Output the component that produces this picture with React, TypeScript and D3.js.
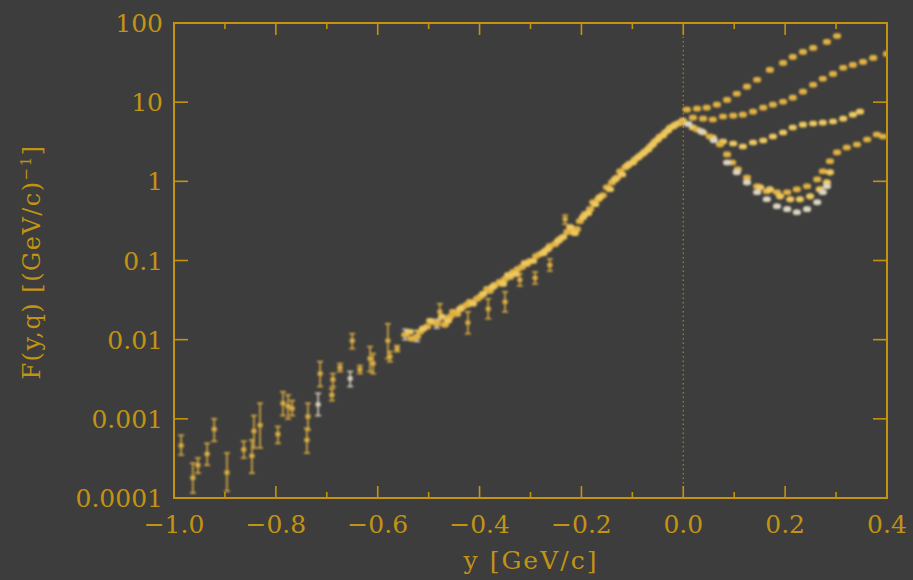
import React from "react";
import * as d3 from "d3";

const W = 913;
const H = 580;
const plot = { left: 174, right: 887, top: 23, bottom: 498 };

const xMajor = [-1.0, -0.8, -0.6, -0.4, -0.2, 0.0, 0.2, 0.4];
const xMajorLabels = ["−1.0", "−0.8", "−0.6", "−0.4", "−0.2", "0.0", "0.2", "0.4"];
const xMinor = [-0.9, -0.7, -0.5, -0.3, -0.1, 0.1, 0.3];
const yMajor = [0.0001, 0.001, 0.01, 0.1, 1, 10, 100];
const yMajorLabels = ["0.0001", "0.001", "0.01", "0.1", "1", "10", "100"];

// [y, F, F low, F high] sparse points with big error bars
const lowGold = [
  [-0.986, 4.6e-4, 3.5e-4, 6.2e-4],
  [-0.963, 1.8e-4, 1.16e-4, 2.75e-4],
  [-0.953, 2.6e-4, 2.06e-4, 3.2e-4],
  [-0.935, 3.6e-4, 2.6e-4, 4.9e-4],
  [-0.921, 7.4e-4, 5.2e-4, 1.0e-3],
  [-0.896, 2.1e-4, 1.22e-4, 3.7e-4],
  [-0.863, 4.1e-4, 3.2e-4, 5.2e-4],
  [-0.847, 3.4e-4, 2.06e-4, 5.4e-4],
  [-0.843, 7.0e-4, 4.3e-4, 1.1e-3],
  [-0.831, 8.3e-4, 4.3e-4, 1.57e-3],
  [-0.796, 6.4e-4, 4.9e-4, 8.0e-4],
  [-0.786, 1.57e-3, 1.1e-3, 2.2e-3],
  [-0.776, 1.44e-3, 1.0e-3, 2.0e-3],
  [-0.768, 1.35e-3, 1.1e-3, 1.7e-3],
  [-0.739, 5.4e-4, 3.7e-4, 7.6e-4],
  [-0.737, 1.07e-3, 7.2e-4, 1.57e-3],
  [-0.713, 3.73e-3, 2.56e-3, 5.28e-3],
  [-0.69, 2.0e-3, 1.7e-3, 2.4e-3],
  [-0.688, 3.14e-3, 2.56e-3, 3.73e-3],
  [-0.674, 4.44e-3, 3.96e-3, 4.99e-3],
  [-0.65, 9.7e-3, 7.7e-3, 1.19e-2],
  [-0.635, 4.2e-3, 3.73e-3, 4.71e-3],
  [-0.615, 5.77e-3, 3.96e-3, 8.17e-3],
  [-0.609, 5.0e-3, 3.73e-3, 6.67e-3],
  [-0.58, 9.7e-3, 5.77e-3, 1.59e-2],
  [-0.576, 6.1e-3, 5.28e-3, 7.07e-3],
  [-0.562, 7.7e-3, 7.07e-3, 8.4e-3],
  [-0.478, 2.25e-2, 1.73e-2, 2.84e-2],
  [-0.423, 1.64e-2, 1.19e-2, 2.25e-2],
  [-0.383, 2.45e-2, 1.84e-2, 3.28e-2],
  [-0.35, 3.0e-2, 2.25e-2, 4.02e-2],
  [-0.321, 5.69e-2, 4.78e-2, 6.76e-2],
  [-0.291, 6.03e-2, 5.07e-2, 7.16e-2],
  [-0.262, 8.77e-2, 7.38e-2, 0.1045],
  [-0.232, 0.333, 0.288, 0.373],
];

const lowPale = [
  [-0.717, 1.52e-3, 1.1e-3, 2.1e-3],
  [-0.654, 3.23e-3, 2.56e-3, 3.96e-3],
  [-0.546, 1.16e-2, 1.0e-2, 1.35e-2],
  [-0.523, 1.09e-2, 0.95e-2, 1.3e-2],
  [-0.484, 1.59e-2, 1.4e-2, 1.8e-2],
];

// [y, F] the scaling band below y = 0
const band1 = [
  [-0.546, 0.01156], [-0.533, 0.0103], [-0.523, 0.0109], [-0.517, 0.0126],
  [-0.503, 0.0146], [-0.491, 0.0168], [-0.484, 0.0159], [-0.468, 0.0154],
  [-0.458, 0.0195], [-0.452, 0.0225], [-0.444, 0.0212], [-0.433, 0.026],
  [-0.425, 0.0275], [-0.419, 0.03], [-0.405, 0.0328], [-0.399, 0.0348],
  [-0.385, 0.0438], [-0.38, 0.0413], [-0.37, 0.0492], [-0.36, 0.0537],
  [-0.35, 0.0585], [-0.34, 0.062], [-0.334, 0.0716], [-0.325, 0.078],
  [-0.317, 0.0828], [-0.307, 0.0904], [-0.301, 0.0986], [-0.289, 0.114],
  [-0.281, 0.121], [-0.272, 0.132], [-0.262, 0.152], [-0.252, 0.161],
  [-0.242, 0.186], [-0.228, 0.228], [-0.219, 0.235], [-0.209, 0.249],
  [-0.203, 0.314], [-0.193, 0.385], [-0.183, 0.445], [-0.177, 0.544],
  [-0.167, 0.594], [-0.158, 0.667], [-0.15, 0.841], [-0.14, 0.971],
  [-0.13, 1.12], [-0.124, 1.34], [-0.114, 1.5], [-0.105, 1.68],
  [-0.095, 1.89], [-0.085, 2.12], [-0.075, 2.39], [-0.065, 2.75],
  [-0.056, 3.19], [-0.046, 3.68], [-0.036, 4.13], [-0.026, 4.78],
  [-0.016, 5.21], [-0.006, 5.52],
];

const band2 = [
  [-0.537, 0.0126], [-0.511, 0.0138], [-0.497, 0.0173], [-0.474, 0.0195],
  [-0.462, 0.0173], [-0.438, 0.0245], [-0.413, 0.0284], [-0.393, 0.0379],
  [-0.374, 0.0465], [-0.354, 0.0506], [-0.344, 0.0657], [-0.329, 0.0676],
  [-0.311, 0.0931], [-0.295, 0.0986], [-0.275, 0.124], [-0.266, 0.14],
  [-0.246, 0.176], [-0.236, 0.198], [-0.222, 0.264], [-0.213, 0.222],
  [-0.197, 0.352], [-0.187, 0.396], [-0.173, 0.514], [-0.164, 0.629],
  [-0.144, 0.793], [-0.134, 1.06], [-0.12, 1.22], [-0.109, 1.59],
  [-0.099, 1.73], [-0.089, 2.0], [-0.079, 2.25], [-0.069, 2.53],
  [-0.06, 2.92], [-0.05, 3.37], [-0.04, 3.79], [-0.03, 4.38],
  [-0.02, 4.92], [-0.01, 5.37], [-0.001, 5.85],
];

// [y, F] the curves above y = 0, one per momentum transfer
const curveA = [
  [0.007, 8.05], [0.027, 8.28], [0.046, 8.53], [0.066, 9.31], [0.086, 10.7],
  [0.105, 12.8], [0.125, 15.7], [0.145, 19.2], [0.17, 25.6], [0.196, 31.4],
  [0.215, 37.3], [0.235, 43.2], [0.255, 48.5], [0.282, 57.7], [0.302, 68.5],
];
const curveB = [
  [0.019, 6.38], [0.039, 6.19], [0.058, 6.03], [0.078, 6.58], [0.098, 6.76],
  [0.117, 6.97], [0.137, 7.6], [0.157, 8.53], [0.176, 9.31], [0.196, 10.1],
  [0.215, 11.4], [0.235, 13.6], [0.255, 16.6], [0.274, 19.8], [0.294, 22.8],
  [0.314, 27.2], [0.333, 29.6], [0.353, 32.3], [0.373, 36.3], [0.4, 40.7],
];
const curveC = [
  [-0.001, 5.52], [0.019, 4.78], [0.039, 4.13], [0.058, 3.57], [0.078, 3.18],
  [0.098, 3.01], [0.117, 2.75], [0.137, 3.1], [0.157, 3.28], [0.176, 3.68],
  [0.196, 4.13], [0.215, 4.78], [0.235, 5.21], [0.255, 5.37], [0.274, 5.52],
  [0.294, 5.69], [0.314, 6.19], [0.333, 6.97], [0.347, 7.6],
];
const curveD = [
  [-0.001, 5.52], [0.027, 4.51], [0.052, 3.68], [0.072, 2.92], [0.086, 2.19],
  [0.096, 1.73], [0.107, 1.42], [0.125, 1.12], [0.145, 0.865], [0.164, 0.748],
  [0.184, 0.728], [0.204, 0.728], [0.223, 0.792], [0.243, 0.865], [0.263, 1.06],
  [0.274, 1.34], [0.288, 1.79], [0.302, 2.32], [0.321, 2.68], [0.341, 2.92],
  [0.361, 3.37], [0.38, 3.9], [0.392, 3.68],
];
const curveE = [
  [0.01, 5.3], [0.035, 4.3], [0.06, 3.3], [0.086, 1.73], [0.105, 1.3],
  [0.125, 0.971], [0.145, 0.728], [0.164, 0.594], [0.184, 0.485], [0.204, 0.445],
  [0.223, 0.407], [0.243, 0.445], [0.263, 0.544], [0.274, 0.728], [0.282, 0.865],
];
const curveF = [
  [0.151, 0.841], [0.17, 0.792], [0.19, 0.647], [0.21, 0.594], [0.229, 0.594],
  [0.249, 0.647], [0.268, 0.792], [0.282, 0.971], [0.288, 1.3],
];

const AXIS = "#c4940f";
const TEXT = "#c29314";
const GOLD = "#e2b243";
const LIGHT = "#efc95e";
const PALE = "#ddd5c0";
const FONT = "'DejaVu Serif', serif";

const x = d3.scaleLinear().domain([-1, 0.4]).range([plot.left, plot.right]);
const y = d3.scaleLog().domain([1e-4, 100]).range([plot.bottom, plot.top]);

function Bars({ data, color }: { data: number[][]; color: string }) {
  return (
    <g stroke={color} fill={color} strokeWidth={1.5}>
      {data.map(([yy, f, lo, hi], i) => {
        const cx = x(yy);
        return (
          <g key={i}>
            <line x1={cx} x2={cx} y1={y(lo)} y2={y(hi)} />
            <line x1={cx - 3} x2={cx + 3} y1={y(lo)} y2={y(lo)} />
            <line x1={cx - 3} x2={cx + 3} y1={y(hi)} y2={y(hi)} />
            <rect x={cx - 2.5} y={y(f) - 2} width={5} height={4} stroke="none" />
          </g>
        );
      })}
    </g>
  );
}

function Dots({ data, color, err }: { data: number[][]; color: string; err: number }) {
  return (
    <g fill={color} stroke={color} strokeWidth={1.3}>
      {data.map(([yy, f], i) => {
        const cx = x(yy);
        const cy = y(f);
        return (
          <g key={i}>
            {err > 0 && (
              <line x1={cx} x2={cx} y1={y(f * (1 - err))} y2={y(f * (1 + err))} />
            )}
            <rect x={cx - 4} y={cy - 2.8} width={8} height={5.6} rx={2.5} stroke="none" />
          </g>
        );
      })}
    </g>
  );
}

export default function App() {
  const decadesPx = yMajor.map((v) => y(v));
  return (
    <svg
      width={W}
      height={H}
      style={{ position: "absolute", left: 0, top: 0, display: "block", background: "#3d3d3d" }}
    >
      <rect x={0} y={0} width={W} height={H} fill="#3d3d3d" />
      <defs>
        <filter id="soft" x="-5%" y="-5%" width="110%" height="110%">
          <feGaussianBlur stdDeviation={0.8} />
        </filter>
        <clipPath id="clip">
          <rect x={plot.left} y={plot.top} width={plot.right - plot.left} height={plot.bottom - plot.top} />
        </clipPath>
      </defs>

      {/* y = 0 dotted line */}
      <line
        x1={x(0)}
        x2={x(0)}
        y1={plot.top}
        y2={plot.bottom}
        stroke={AXIS}
        strokeWidth={1.2}
        strokeDasharray="1.5 3"
        opacity={0.8}
      />

      <g clipPath="url(#clip)" filter="url(#soft)">
        <Bars data={lowGold} color={GOLD} />
        <Bars data={lowPale} color={PALE} />
        <Dots data={band1} color={GOLD} err={0.08} />
        <Dots data={band2} color={LIGHT} err={0.05} />
        <Dots data={curveA} color={GOLD} err={0} />
        <Dots data={curveB} color={GOLD} err={0} />
        <Dots data={curveC} color={LIGHT} err={0} />
        <Dots data={curveD} color={GOLD} err={0.06} />
        <Dots data={curveF} color={LIGHT} err={0.1} />
        <Dots data={curveE} color={PALE} err={0.08} />
      </g>

      {/* frame */}
      <rect
        x={plot.left}
        y={plot.top}
        width={plot.right - plot.left}
        height={plot.bottom - plot.top}
        fill="none"
        stroke={AXIS}
        strokeWidth={2}
      />
      <g stroke={AXIS} strokeWidth={1.6}>
        {xMajor.map((v) => (
          <g key={"xm" + v}>
            <line x1={x(v)} x2={x(v)} y1={plot.bottom} y2={plot.bottom - 12} />
            <line x1={x(v)} x2={x(v)} y1={plot.top} y2={plot.top + 12} />
          </g>
        ))}
        {xMinor.map((v) => (
          <g key={"xn" + v}>
            <line x1={x(v)} x2={x(v)} y1={plot.bottom} y2={plot.bottom - 6} />
            <line x1={x(v)} x2={x(v)} y1={plot.top} y2={plot.top + 6} />
          </g>
        ))}
        {decadesPx.map((py, i) => (
          <g key={"y" + i}>
            <line x1={plot.left} x2={plot.left + 14} y1={py} y2={py} />
            <line x1={plot.right} x2={plot.right - 14} y1={py} y2={py} />
          </g>
        ))}
      </g>

      <g fill={TEXT} fontFamily={FONT} fontSize={25}>
        {xMajor.map((v, i) => (
          <text key={"xl" + v} x={x(v)} y={533} textAnchor="middle">
            {xMajorLabels[i]}
          </text>
        ))}
        {yMajor.map((v, i) => (
          <text key={"yl" + v} x={163} y={y(v)} dy="0.36em" textAnchor="end">
            {yMajorLabels[i]}
          </text>
        ))}
        <text x={531} y={569} textAnchor="middle" letterSpacing={2}>
          y [GeV/c]
        </text>
        <text
          transform="translate(40,262) rotate(-90)"
          textAnchor="middle"
          fontSize={24}
          letterSpacing={1.5}
        >
          F(y,q) [(GeV/c)
          <tspan fontSize={15} dy={-9}>−1</tspan>
          <tspan dy={9}>]</tspan>
        </text>
      </g>
    </svg>
  );
}
